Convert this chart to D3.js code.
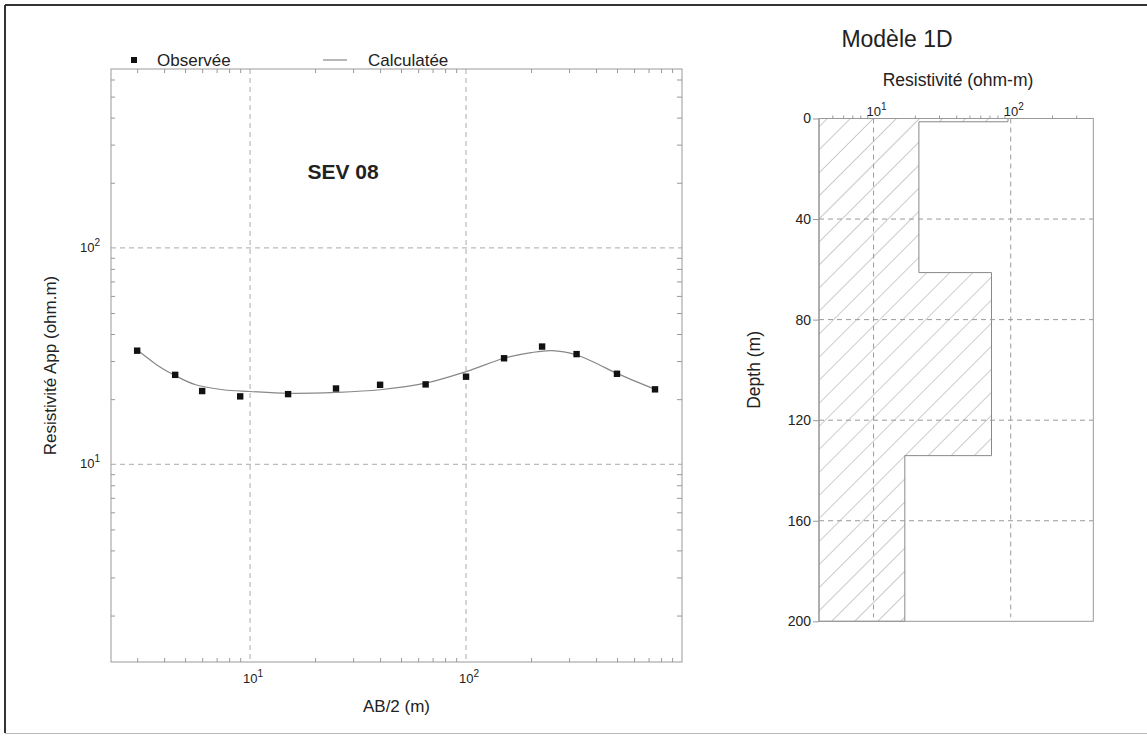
<!DOCTYPE html>
<html>
<head>
<meta charset="utf-8">
<script src="https://cdn.jsdelivr.net/npm/d3@7"></script>
<style>
  body { margin: 0; background: #fff; }
  text { font-family: "Liberation Sans", Arial, sans-serif; fill: #222; }
</style>
</head>
<body>
<script>
// observed sounding (AB/2 in m, apparent resistivity in ohm.m)
var abHalf = [3, 4.5, 6, 9, 15, 25, 40, 65, 100, 150, 225, 325, 500, 750];
var rhoObs = [33.5, 25.9, 21.8, 20.6, 21.1, 22.4, 23.3, 23.4, 25.4, 30.9, 35.0, 32.3, 26.2, 22.2];

// calculated curve
var abCalc = [3, 3.7, 4.5, 5.6, 7.5, 10, 15, 25, 40, 65, 100, 150, 200, 250, 325, 400, 500, 750];
var rhoCalc = [33.8, 28.8, 25.7, 23.3, 22.1, 21.7, 21.3, 21.5, 22.1, 23.7, 26.8, 30.9, 32.8, 33.5, 32.0, 29.3, 26.3, 22.2];

// 1D model layers
var layerRho = [95.5, 21.4, 72.4, 16.9];
var layerTop = [0, 1.3, 61.3, 134.1];
var maxDepth = 200;
var depthTicks = [0, 40, 80, 120, 160, 200];
var decades = [10, 100];

var W = 1147, H = 736;
var svg = d3.select("body").append("svg")
  .attr("width", W)
  .attr("height", H);

var defs = svg.append("defs");
var pat = defs.append("pattern")
  .attr("id", "hatch")
  .attr("patternUnits", "userSpaceOnUse")
  .attr("width", 16.3)
  .attr("height", 10)
  .attr("patternTransform", "rotate(45)");
pat.append("line")
  .attr("x1", 0).attr("y1", 0).attr("x2", 0).attr("y2", 10)
  .attr("stroke", "#999").attr("stroke-width", 1);

// outer frame
svg.append("line").attr("x1", 5).attr("y1", 5).attr("x2", W).attr("y2", 5)
  .attr("stroke", "#333").attr("stroke-width", 2);
svg.append("line").attr("x1", 5).attr("y1", 5).attr("x2", 5).attr("y2", 733)
  .attr("stroke", "#333").attr("stroke-width", 2);
svg.append("line").attr("x1", 5).attr("y1", 733.5).attr("x2", W).attr("y2", 733.5)
  .attr("stroke", "#bbb").attr("stroke-width", 1);

//minor ticks 2..9 of each decade inside a domain
function minorTicks(dom) {
  var out = [];
  [1, 10, 100].forEach(function(p) {
    for (var k = 2; k <= 9; k++) {
      var v = k * p;
      if (v > dom[0] && v < dom[1]) out.push(v);
    }
  });
  return out;
}

function powLabel(g, x, y, exp, anchor) {
  var t = g.append("text")
    .attr("x", x).attr("y", y)
    .attr("text-anchor", anchor)
    .attr("fill", "#222")
    .attr("font-size", 13);
  t.append("tspan").attr("font-size", 13).text("10");
  t.append("tspan").attr("dy", -6).attr("font-size", 10).text(exp);
  return t;
}

function styleAxis(g) {
  g.select(".domain").remove();
  g.selectAll(".tick line").attr("stroke", "#999");
}

// ---------------- left chart: sounding curve
var left = {x0: 111, x1: 682, y0: 69, y1: 662};
var x = d3.scaleLog().domain([2.27, 1000]).range([left.x0, left.x1]);
var y = d3.scaleLog().domain([1.22, 671]).range([left.y1, left.y0]);

var gl = svg.append("g");

// grid
gl.selectAll(".vgrid").data(decades).enter().append("line")
  .attr("x1", function(d) { return x(d); }).attr("x2", function(d) { return x(d); })
  .attr("y1", left.y0).attr("y2", left.y1)
  .attr("stroke", "#aaa").attr("stroke-dasharray", "5,4");
gl.selectAll(".hgrid").data(decades).enter().append("line")
  .attr("x1", left.x0).attr("x2", left.x1)
  .attr("y1", function(d) { return y(d); }).attr("y2", function(d) { return y(d); })
  .attr("stroke", "#aaa").attr("stroke-dasharray", "5,4");

// inward ticks on all four sides
var mx = minorTicks(x.domain()), my = minorTicks(y.domain());
gl.append("g").attr("transform", "translate(0," + left.y1 + ")")
  .call(d3.axisBottom(x).tickValues(mx).tickSize(-4).tickFormat("")).call(styleAxis);
gl.append("g").attr("transform", "translate(0," + left.y0 + ")")
  .call(d3.axisTop(x).tickValues(mx).tickSize(-4).tickFormat("")).call(styleAxis);
gl.append("g").attr("transform", "translate(" + left.x0 + ",0)")
  .call(d3.axisLeft(y).tickValues(my).tickSize(-4).tickFormat("")).call(styleAxis);
gl.append("g").attr("transform", "translate(" + left.x1 + ",0)")
  .call(d3.axisRight(y).tickValues(my).tickSize(-5).tickFormat("")).call(styleAxis);

gl.append("rect")
  .attr("x", left.x0).attr("y", left.y0)
  .attr("width", left.x1 - left.x0).attr("height", left.y1 - left.y0)
  .attr("fill", "none").attr("stroke", "#999");

// tick labels
decades.forEach(function(d, i) {
  powLabel(gl, x(d) + 3, left.y1 + 21, String(i + 1), "middle");
  powLabel(gl, 100, y(d) + 4, String(i + 1), "end");
});

// calculated curve
var calc = abCalc.map(function(d, i) { return [d, rhoCalc[i]]; });
var line = d3.line()
  .x(function(d) { return x(d[0]); })
  .y(function(d) { return y(d[1]); })
  .curve(d3.curveCatmullRom);
gl.append("path").datum(calc)
  .attr("d", line)
  .attr("fill", "none").attr("stroke", "#888").attr("stroke-width", 1.2);

// observed points
var obs = abHalf.map(function(d, i) { return [d, rhoObs[i]]; });
gl.selectAll(".obs").data(obs).enter().append("rect")
  .attr("x", function(d) { return x(d[0]) - 3.2; })
  .attr("y", function(d) { return y(d[1]) - 3.2; })
  .attr("width", 6.4).attr("height", 6.4)
  .attr("fill", "#111");

// legend
gl.append("rect").attr("x", 131).attr("y", 57).attr("width", 6).attr("height", 6).attr("fill", "#111");
gl.append("text").attr("x", 157).attr("y", 66).style("font-size", "17px").text("Observée");
gl.append("line").attr("x1", 323).attr("x2", 347).attr("y1", 60).attr("y2", 60)
  .attr("stroke", "#888").attr("stroke-width", 1.2);
gl.append("text").attr("x", 368).attr("y", 66).style("font-size", "17px").text("Calculatée");

gl.append("text").attr("x", 343).attr("y", 179).attr("text-anchor", "middle")
  .style("font-size", "21px").style("font-weight", "bold").text("SEV 08");

gl.append("text").attr("x", (left.x0 + left.x1) / 2).attr("y", 712)
  .attr("text-anchor", "middle").style("font-size", "17px").text("AB/2 (m)");
gl.append("text")
  .attr("transform", "translate(56," + (left.y0 + left.y1) / 2 + ") rotate(-90)")
  .attr("text-anchor", "middle").style("font-size", "17px").text("Resistivité App (ohm.m)");

// ---------------- right chart: 1D model
var right = {x0: 819, x1: 1093.3, y0: 118.5, y1: 621.3};
var rx = d3.scaleLog().domain([4, 400]).range([right.x0, right.x1]);
var ry = d3.scaleLinear().domain([0, maxDepth]).range([right.y0, right.y1]);

var gr = svg.append("g");

// step outline of the model, filled with hatching
var pts = [[rx.domain()[0], 0]];
layerRho.forEach(function(r, i) {
  var bottom = i < layerRho.length - 1 ? layerTop[i + 1] : maxDepth;
  pts.push([r, layerTop[i]]);
  pts.push([r, bottom]);
});
pts.push([rx.domain()[0], maxDepth]);
gr.append("path")
  .attr("d", d3.line().x(function(d) { return rx(d[0]); }).y(function(d) { return ry(d[1]); })(pts) + "Z")
  .attr("fill", "url(#hatch)").attr("stroke", "#888").attr("stroke-width", 1);

// grid
gr.selectAll(".vgrid").data(decades).enter().append("line")
  .attr("x1", function(d) { return rx(d); }).attr("x2", function(d) { return rx(d); })
  .attr("y1", right.y0).attr("y2", right.y1 - 4)
  .attr("stroke", "#999").attr("stroke-dasharray", "5,4");
gr.selectAll(".hgrid").data(depthTicks.slice(1, -1)).enter().append("line")
  .attr("x1", right.x0).attr("x2", right.x1)
  .attr("y1", function(d) { return ry(d); }).attr("y2", function(d) { return ry(d); })
  .attr("stroke", "#999").attr("stroke-dasharray", "5,4");

gr.append("rect")
  .attr("x", right.x0).attr("y", right.y0)
  .attr("width", right.x1 - right.x0).attr("height", right.y1 - right.y0)
  .attr("fill", "none").attr("stroke", "#999");

gr.append("g").attr("transform", "translate(0," + right.y0 + ")")
  .call(d3.axisTop(rx).tickValues(minorTicks(rx.domain())).tickSize(3).tickFormat("")).call(styleAxis);

var depthAxis = gr.append("g").attr("transform", "translate(" + right.x0 + ",0)")
  .call(d3.axisLeft(ry).tickValues(depthTicks).tickSize(6).tickPadding(2).tickFormat(d3.format("d")));
styleAxis(depthAxis);
depthAxis.selectAll("text").attr("font-size", 14).attr("fill", "#222");

decades.forEach(function(d, i) {
  powLabel(gr, rx(d) + 3, right.y0 - 3, String(i + 1), "middle");
});

gr.append("text").attr("x", 897).attr("y", 47).attr("text-anchor", "middle")
  .style("font-size", "23px").text("Modèle 1D");
gr.append("text").attr("x", 958).attr("y", 86).attr("text-anchor", "middle")
  .style("font-size", "17.5px").text("Resistivité (ohm-m)");
gr.append("text")
  .attr("transform", "translate(760," + (right.y0 + right.y1) / 2 + ") rotate(-90)")
  .attr("text-anchor", "middle").style("font-size", "17.5px").text("Depth (m)");
</script>
</body>
</html>
